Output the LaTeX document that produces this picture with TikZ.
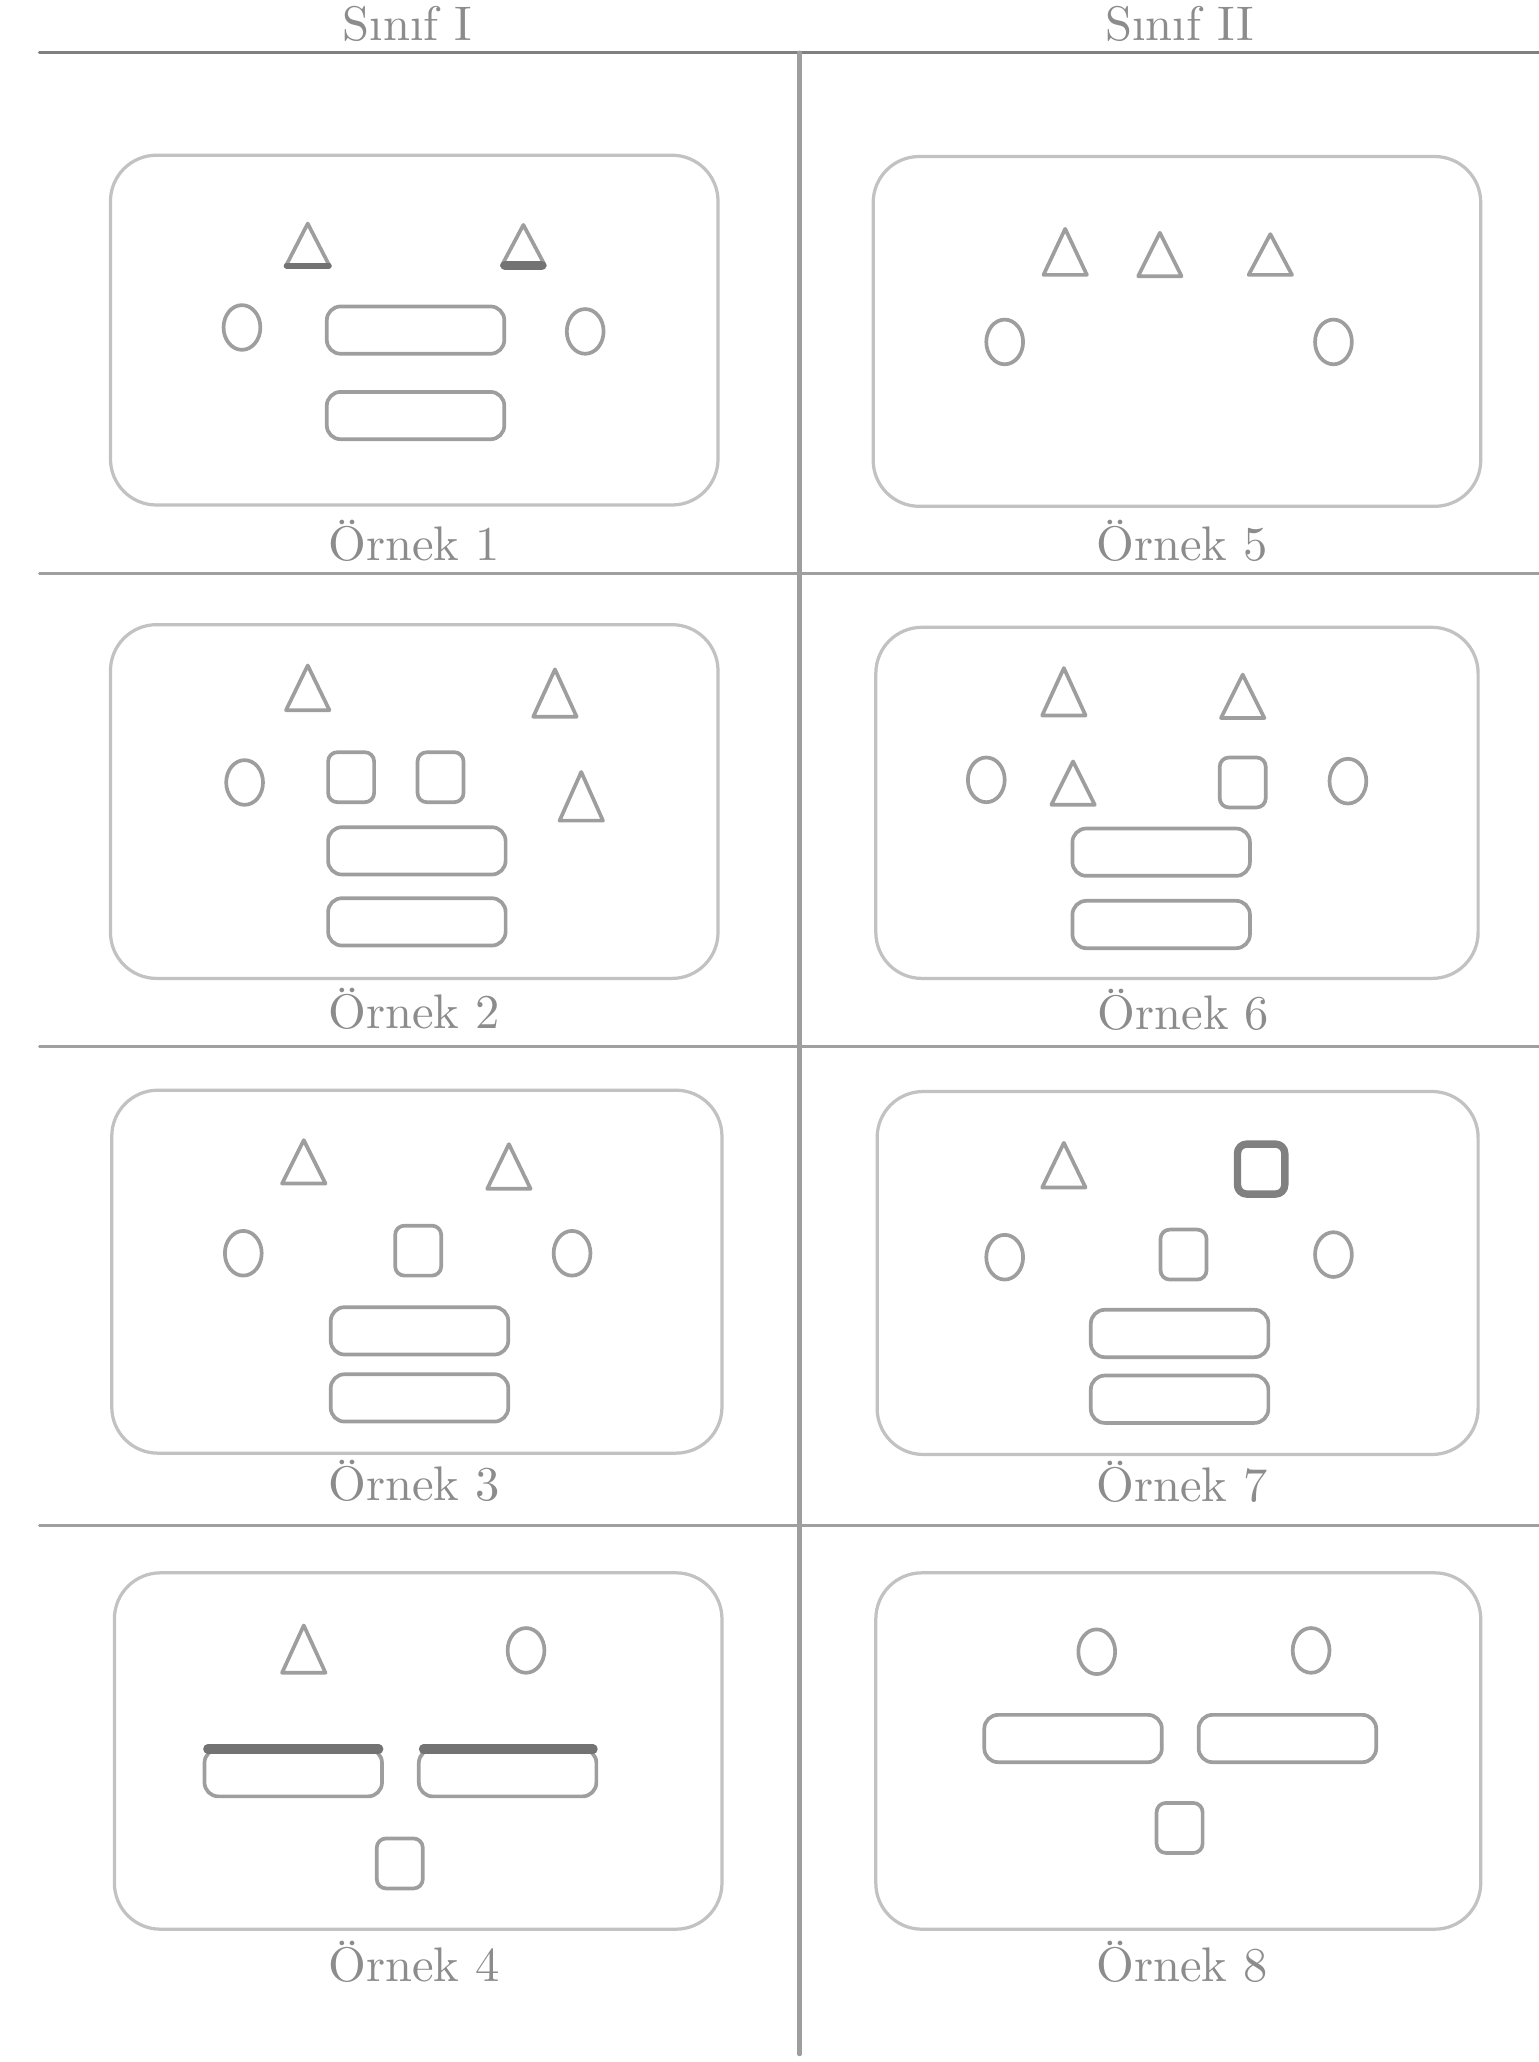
\documentclass[tikz,border=0pt]{standalone}
\usepackage{fontspec}
\definecolor{rule}{gray}{0.5}
\definecolor{frame}{gray}{0.76}
\definecolor{figure}{gray}{0.62}
\definecolor{ink}{gray}{0.55}
\begin{document}
\begin{tikzpicture}[x=0.01cm, y=-0.01cm, line join=round, line cap=round,
		font=\fontsize{10.5}{12}\selectfont,
		panel/.style={draw=frame, line width=0.7pt, rounded corners=0.35cm},
		shp/.style={draw=figure, line width=0.8pt},
		bar/.style={shp, rounded corners=3pt},
		accent/.style={draw=black!55, line width=2pt},
		caption/.style={text=ink, inner sep=0pt}]
	\useasboundingbox (0,0) rectangle (1170,1568);
	% class headers and grid
	\node[caption] (sinif1) at (310,18) {Sınıf I};
	\node[caption] (sinif2) at (897,18) {Sınıf II};
	\draw[rule, line width=0.7pt] (30,40) -- (1170,40);
	\draw[figure, line width=0.9pt] (608,40) -- (608,1562);
	\foreach \y in {436,796,1160}
	\draw[rule!75, line width=0.6pt] (30,\y) -- (1170,\y);
	% examples
	\foreach \a/\b/\c/\d in {84/118/546/384, 664/119/1126/385, 84/475/546/744, 666/477/1124/744,
		85/829/549/1105, 667/830/1124/1106, 87/1196/549/1467, 666/1196/1126/1467}
	\draw[panel] (\a,\b) rectangle (\c,\d);
	\foreach \n/\x/\y in {1/315/411, 2/315/767, 3/315/1126, 4/315/1492,
		5/899/411, 6/900/768, 7/899/1127, 8/899/1492}
	\node[caption] (ornek\n) at (\x,\y) {Örnek \n};
	% triangles: x / apex / base
	\foreach \x/\t/\b in {234/170/202, 398/171/202, 810/174/209, 882/177/210, 966/178/209,
		234/506/540, 422/509/545, 442/587/624, 809/508/544, 945/513/546, 816/579/612,
		231/867/900, 387/870/904, 809/869/903, 231/1236/1272}
	\draw[shp] (\x-16.5,\b) -- (\x+16.5,\b) -- (\x,\t) -- cycle;
	% circles
	\foreach \x/\y in {184/249, 445/252, 764/260, 1014/260, 186/595, 750/593, 1025/594,
		185/953, 435/953, 764/956, 1014/954, 400/1255, 834/1256, 997/1255}
	\draw[shp] (\x,\y) ellipse [x radius=14, y radius=17];
	% squares
	\foreach \x/\y in {267/591, 335/591, 945/595, 318/951, 900/954, 304/1417, 897/1390}
	\draw[shp, rounded corners=2pt] (\x-17.5,\y-19) rectangle (\x+17.5,\y+19);
	\draw[shp, draw=black!50, line width=1.6pt, rounded corners=2pt] (941,870) rectangle (977,908);
	% bars
	\foreach \x/\y in {316/251, 316/316, 317/647, 317/701, 883/648, 883/703, 319/1012, 319/1063,
		897/1014, 897/1064, 223/1348, 386/1348, 816/1322, 979/1322}
	\draw[bar] (\x-67.5,\y-18) rectangle (\x+67.5,\y+18);
	\draw[accent] (384,202) -- (412,202);
	\draw[accent, line width=1.3pt] (218,202) -- (250,202);
	\draw[accent] (158,1330) -- (288,1330) (322,1330) -- (451,1330);
\end{tikzpicture}
\end{document}
